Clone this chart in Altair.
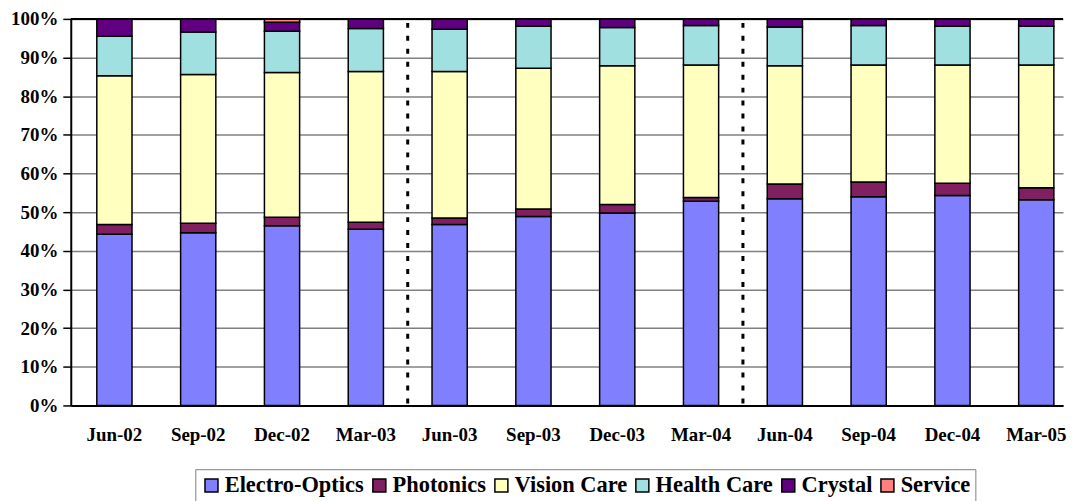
import altair as alt
import pandas as pd

quarters = ["Jun-02", "Sep-02", "Dec-02", "Mar-03", "Jun-03", "Sep-03",
            "Dec-03", "Mar-04", "Jun-04", "Sep-04", "Dec-04", "Mar-05"]
segments = ["Electro-Optics", "Photonics", "Vision Care", "Health Care", "Crystal", "Service"]
colors = ["#8080FF", "#802060", "#FFFFC0", "#A0E0E0", "#600080", "#FF8080"]

electro_optics = [44.3, 44.7, 46.5, 45.6, 46.8, 48.9, 49.8, 52.8, 53.5, 54.0, 54.3, 53.2]
photonics      = [2.5, 2.4, 2.2, 1.8, 1.7, 1.9, 2.2, 1.0, 3.8, 3.8, 3.2, 3.1]
vision_care    = [38.5, 38.5, 37.4, 39.0, 37.9, 36.4, 35.9, 34.3, 30.6, 30.3, 30.6, 31.8]
health_care    = [10.2, 11.0, 10.7, 11.1, 10.9, 10.9, 9.9, 10.2, 10.0, 10.2, 10.0, 10.0]
crystal        = [4.5, 3.4, 2.3, 2.5, 2.7, 1.9, 2.2, 1.7, 2.1, 1.7, 1.9, 1.9]
service        = [0.0, 0.0, 0.9, 0.0, 0.0, 0.0, 0.0, 0.0, 0.0, 0.0, 0.0, 0.0]

dividers = ["Mar-03", "Mar-04"]

series = [electro_optics, photonics, vision_care, health_care, crystal, service]
rows = []
for i, q in enumerate(quarters):
    for j, (s, vals) in enumerate(zip(segments, series)):
        if vals[i] > 0:
            rows.append({"quarter": q, "segment": s, "order": j, "value": vals[i]})
df = pd.DataFrame(rows)

FONT = "Liberation Serif"
W, H = 996, 388

xscale = alt.Scale(paddingInner=0.58, paddingOuter=0.21, align=0.74)

bars = alt.Chart(df).mark_bar(stroke="black", strokeWidth=1.5).encode(
    x=alt.X("quarter:N", sort=quarters, scale=xscale,
            axis=alt.Axis(title=None, labelAngle=0, ticks=False, labelFont=FONT,
                          labelFontWeight="bold", labelFontSize=19, labelPadding=20,
                          labelColor="black", labelOverlap=False,
                          domainColor="black", domainWidth=2)),
    y=alt.Y("value:Q", stack="zero", scale=alt.Scale(domain=[0, 100], nice=False),
            axis=alt.Axis(title=None, values=list(range(0, 101, 10)),
                          labelExpr="datum.value + '%'", labelFont=FONT,
                          labelFontWeight="bold", labelFontSize=19, labelColor="black",
                          labelOverlap=False, labelPadding=5, tickSize=8,
                          tickColor="black", tickWidth=1.5,
                          domainColor="black", domainWidth=2,
                          grid=True, gridColor="#808080", gridWidth=1.5)),
    color=alt.Color("segment:N", scale=alt.Scale(domain=segments, range=colors),
                    legend=alt.Legend(title=None, orient="none", legendX=125, legendY=452,
                                      direction="horizontal", columns=6,
                                      strokeColor="#808080", padding=5,
                                      symbolType="square", symbolSize=170,
                                      symbolStrokeColor="black", symbolStrokeWidth=1.5,
                                      labelFont=FONT, labelFontWeight="bold",
                                      labelFontSize=22.5, labelColor="black",
                                      labelLimit=0, columnPadding=3.5, labelOffset=2)),
    order=alt.Order("order:Q"),
)

rules = alt.Chart(pd.DataFrame({"quarter": dividers})).mark_rule(
    color="black", strokeWidth=3, strokeDash=[5, 8], xOffset=42.05
).encode(
    x=alt.X("quarter:N", sort=quarters),
    y=alt.value(4),
    y2=alt.value(H),
)

top_line = alt.Chart(pd.DataFrame({"v": [100]})).mark_rule(
    color="black", strokeWidth=2
).encode(
    y=alt.value(0),
    x=alt.value(0),
    x2=alt.value(W),
)

chart = alt.layer(bars, rules, top_line).properties(
    width=W, height=H,
    autosize=alt.AutoSizeParams(type="none"),
    padding={"left": 63, "top": 10, "right": 4, "bottom": 96},
).configure(font=FONT).configure_view(stroke=None)

chart.save("out.html", embed_options={"renderer": "svg", "actions": False})
